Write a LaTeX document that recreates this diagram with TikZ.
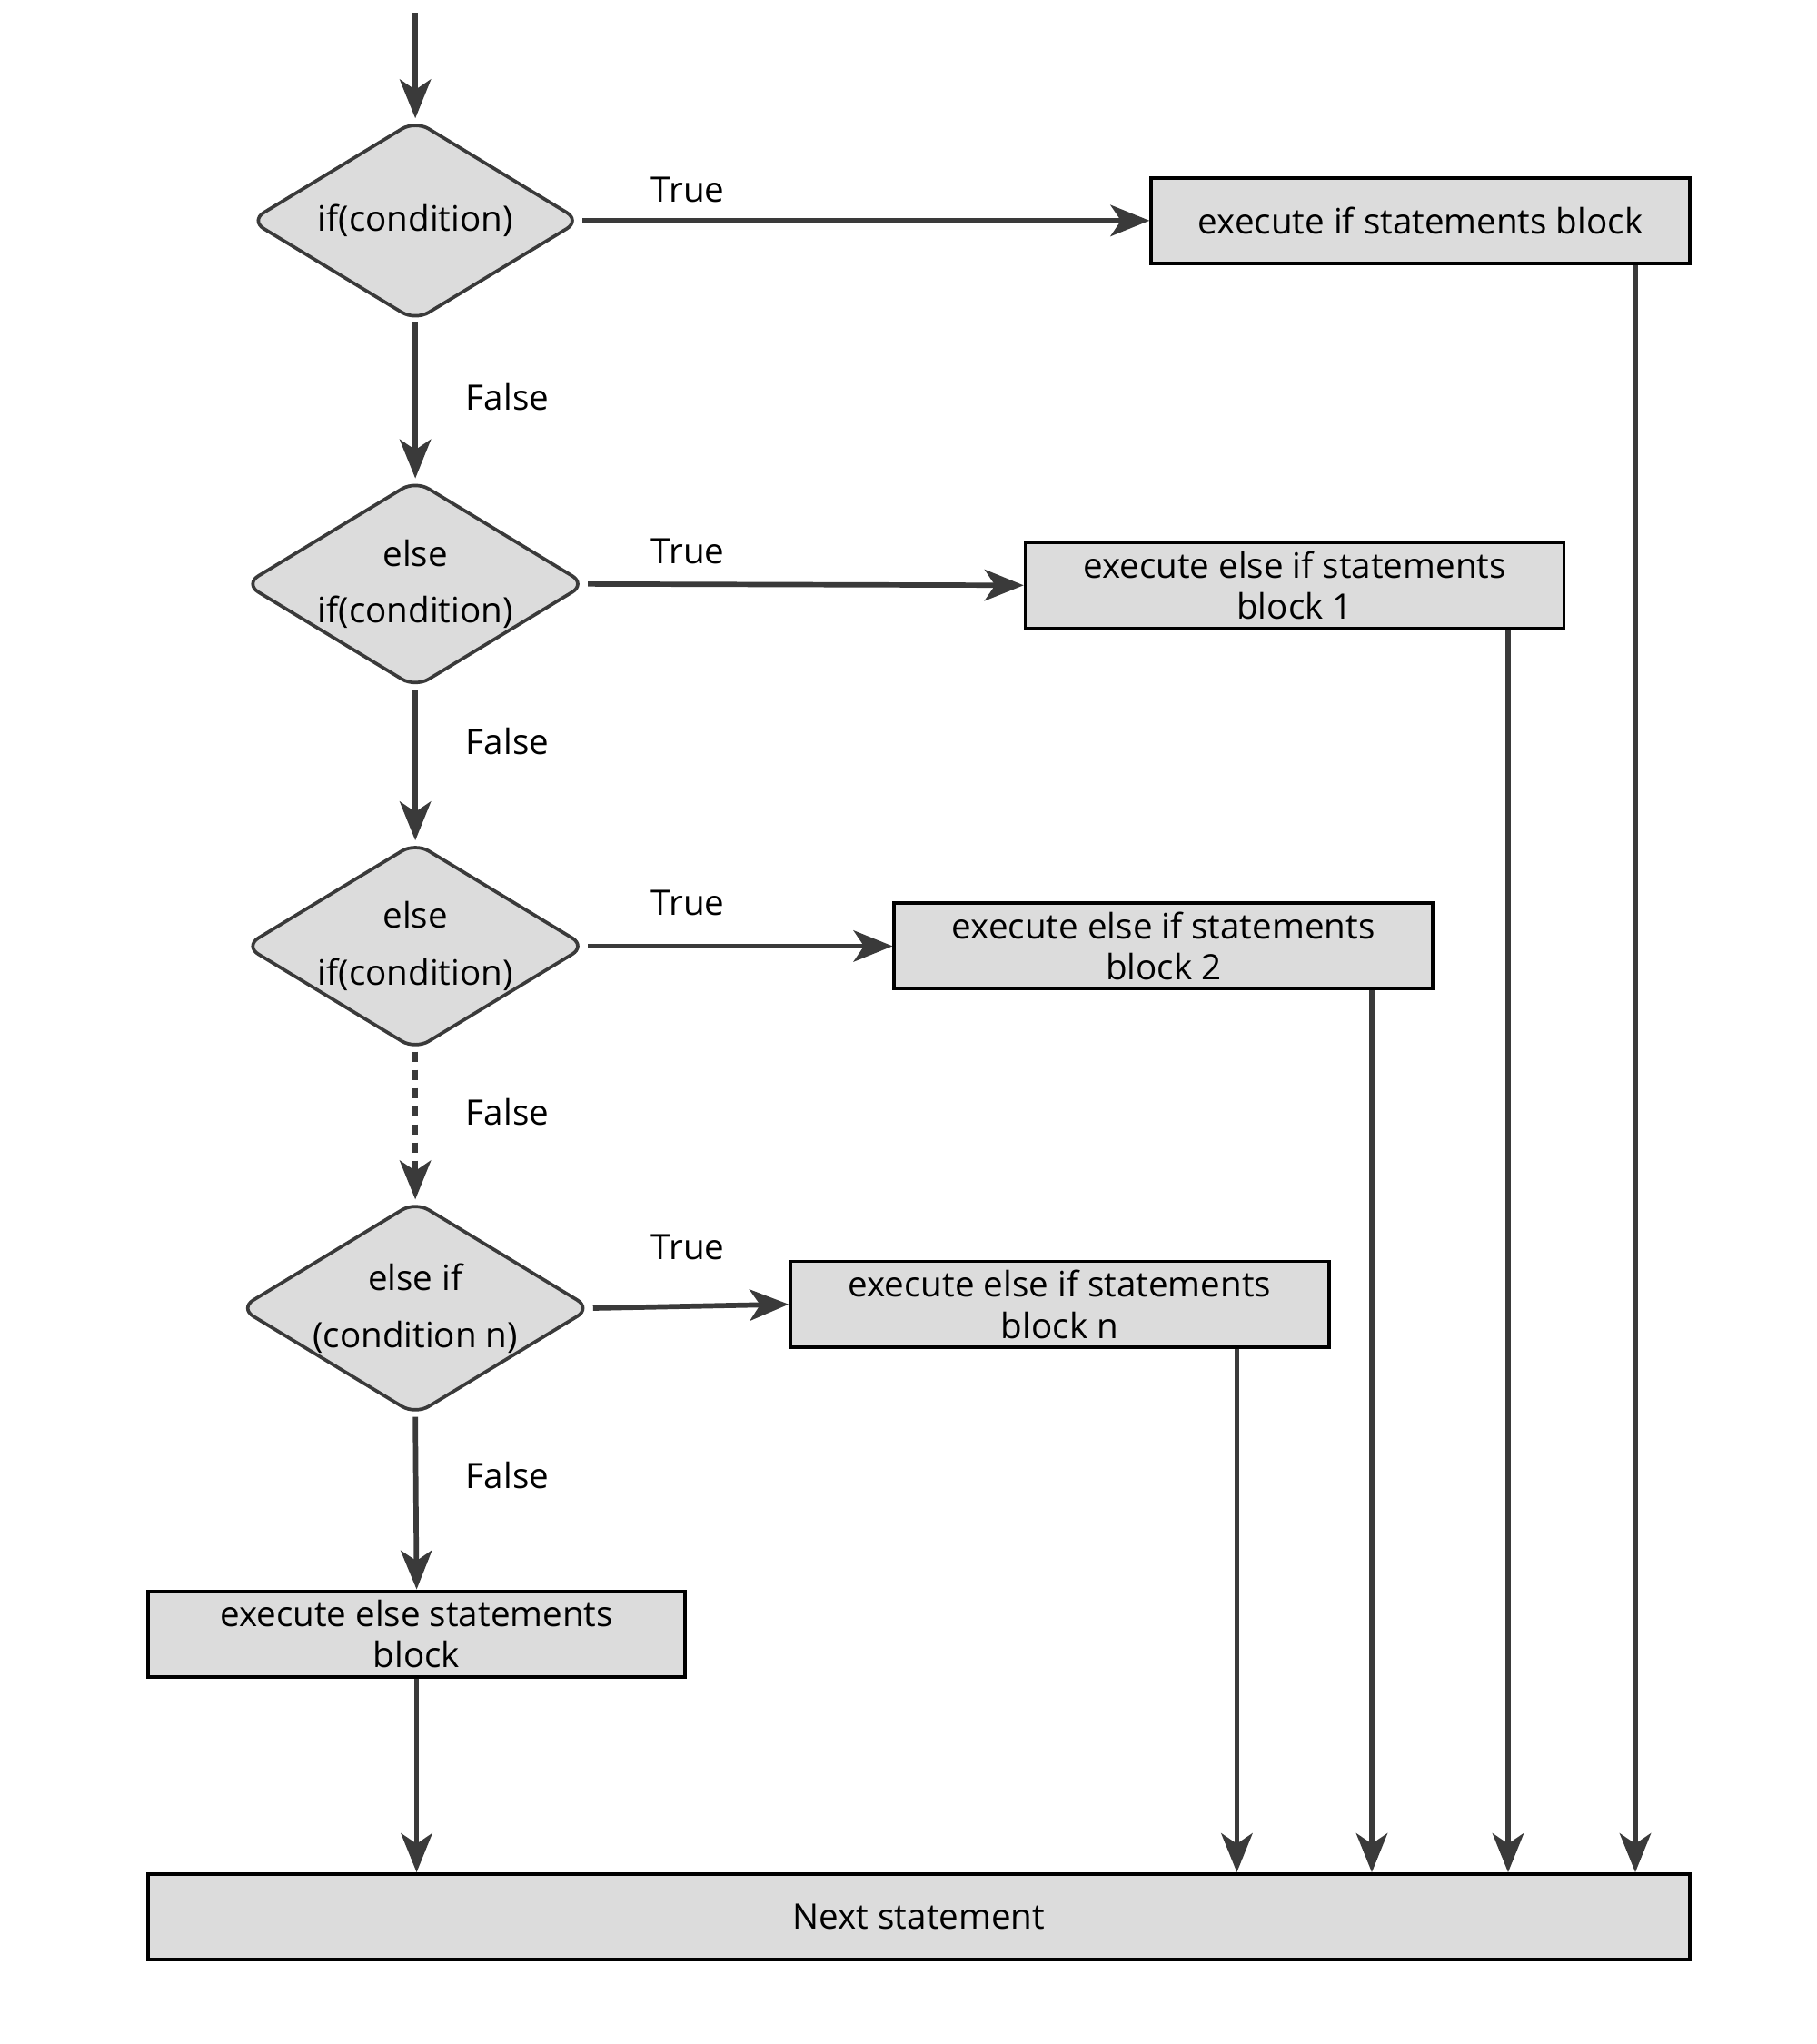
\documentclass[tikz,border=0pt]{standalone}
\usepackage{fontspec}
\setmainfont{Open Sans}
\usetikzlibrary{shapes.geometric,arrows.meta}
\definecolor{ln}{HTML}{3A3A3A}
\definecolor{fl}{HTML}{DCDCDC}
\begin{document}
\begin{tikzpicture}[x=0.5pt,y=-0.5pt,
  font=\fontsize{13.5}{16}\selectfont,
  dia/.style={diamond,draw=ln,fill=fl,line width=1.3pt,rounded corners=6pt,minimum width=127.5pt,minimum height=77.5pt,aspect=1.645,inner sep=0pt,align=center},
  box/.style={rectangle,draw=black,fill=fl,line width=1.3pt,minimum height=33pt,inner sep=0pt,align=center},
  arr/.style={draw=ln,line width=2pt,-{Stealth[length=15pt,width=12pt,inset=4pt]}},
  lab/.style={inner sep=0pt}]
\useasboundingbox (0,0) rectangle (1400,1575);
\node[dia] (d1) at (320,170) {if(condition)};
\node[dia] (d2) at (320,450) {else\\[6pt]if(condition)};
\node[dia] (d3) at (320,729) {else\\[6pt]if(condition)};
\node[dia] (d4) at (320,1008) {else if\\[6pt](condition n)};
\node[box,minimum width=207.5pt] (b1) at (1094.5,170) {execute if statements block};
\node[box,minimum width=207.5pt] (b2) at (997.5,451) {execute else if statements\\block 1};
\node[box,minimum width=207.5pt] (b3) at (896.5,729) {execute else if statements\\block 2};
\node[box,minimum width=207.5pt] (b4) at (816.5,1005) {execute else if statements\\block n};
\node[box,minimum width=207pt] (be) at (321,1259) {execute else statements\\block};
\node[box,minimum width=594pt] (nx) at (708,1477) {Next statement};
\coordinate (top) at (320,10);
\draw[arr] (top) -- (d1.north);
\draw[arr] (d1.east) -- (b1.west);
\draw[arr] (d2.east) -- (b2.west);
\draw[arr] (d3.east) -- (b3.west);
\draw[arr] (d4.east) -- (b4.west);
\draw[arr] (d1.south) -- (d2.north);
\draw[arr] (d2.south) -- (d3.north);
\draw[arr,dash pattern=on 4pt off 3pt] (d3.south) -- (d4.north);
\draw[arr] (d4.south) -- (be.north);
\draw[arr] (be.south) -- (be.south |- nx.north);
\draw[arr] (b1.south -| 1260,0) -- (1260,0 |- nx.north);
\draw[arr] (b2.south -| 1162,0) -- (1162,0 |- nx.north);
\draw[arr] (b3.south -| 1057,0) -- (1057,0 |- nx.north);
\draw[arr] (b4.south -| 953,0) -- (953,0 |- nx.north);
\foreach \y/\n in {146/t1,425/t2,696/t3,961/t4} \node[lab] (\n) at (530,\y) {True};
\foreach \y/\n in {306/f1,571/f2,857/f3,1137/f4} \node[lab] (\n) at (391,\y) {False};
\end{tikzpicture}
\end{document}
